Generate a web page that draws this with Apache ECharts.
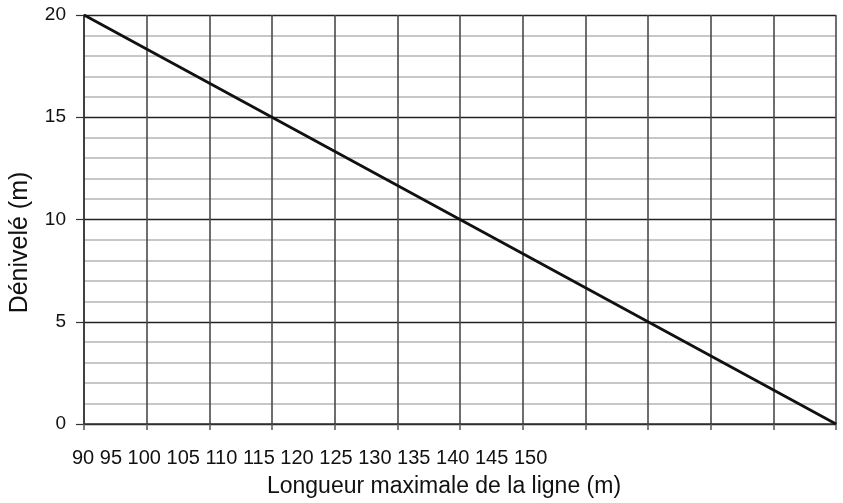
<!DOCTYPE html>
<html>
<head>
<meta charset="utf-8">
<script src="https://cdn.jsdelivr.net/npm/echarts@6/dist/echarts.min.js"></script>
<style>
  html, body { margin: 0; padding: 0; background: #fff; }
  #chart { width: 843px; height: 503px; }
</style>
</head>
<body>
<div id="chart"></div>
<script>
// valeurs
const longueurs = [90, 105, 120, 135, 150];
const denivele = [20, 15, 10, 5, 0];
const xTickLabels = ['90', '95', '100', '105', '110', '115', '120', '125', '130', '135', '140', '145', '150'];
const yTickLabels = ['0', '5', '10', '15', '20'];

const font = '"Liberation Sans", Arial, sans-serif';
const chart = echarts.init(document.getElementById('chart'));

const options = {
  animation: false,
  backgroundColor: '#fff',
  grid: {
    left: 83,
    right: 7,
    top: 15,
    bottom: 76
  },
  xAxis: {
    type: 'value',
    min: 90,
    max: 150,
    interval: 5,
    name: 'Longueur maximale de la ligne (m)',
    nameLocation: 'middle',
    nameGap: 51,
    nameTextStyle: {
      color: '#111',
      fontFamily: font,
      fontSize: 23,
      padding: [0, 32, 0, 0]
    },
    axisLine: { show: true, lineStyle: { color: '#333', width: 1.5 } },
    axisTick: { show: true, length: 6, lineStyle: { color: '#555', width: 1.5 } },
    axisLabel: {
      margin: 24,
      align: 'left',
      padding: [0, 0, 0, -12],
      color: '#111',
      fontFamily: font,
      fontSize: 20,
      // the source prints all the tick values side by side under the left part
      formatter: function (val) {
        return val === 90 ? xTickLabels.join(' ') : '';
      }
    },
    splitLine: { show: true, lineStyle: { color: '#4a4a4a', width: 1.6 } }
  },
  yAxis: {
    type: 'value',
    min: 0,
    max: 20,
    interval: 5,
    name: 'Dénivelé (m)',
    nameLocation: 'middle',
    nameGap: 51,
    nameTextStyle: {
      color: '#111',
      fontFamily: font,
      fontSize: 25,
      padding: [0, 46, 0, 0]
    },
    axisLine: { show: true, lineStyle: { color: '#333', width: 1.5 } },
    axisTick: { show: true, length: 8, lineStyle: { color: '#333', width: 1.2 } },
    axisLabel: {
      margin: 18,
      color: '#111',
      fontFamily: font,
      fontSize: 19,
      formatter: function (val) {
        return yTickLabels[Math.round(val / 5)];
      }
    },
    splitLine: { show: true, lineStyle: { color: '#222', width: 1.3 } },
    minorTick: { show: false, splitNumber: 5 },
    minorSplitLine: { show: true, lineStyle: { color: '#b5b5b5', width: 1.6 } }
  },
  series: [
    {
      type: 'line',
      data: longueurs.map((x, i) => [x, denivele[i]]),
      showSymbol: false,
      lineStyle: { color: '#111', width: 2.8 },
      z: 5
    }
  ]
};

chart.setOption(options);
</script>
</body>
</html>
